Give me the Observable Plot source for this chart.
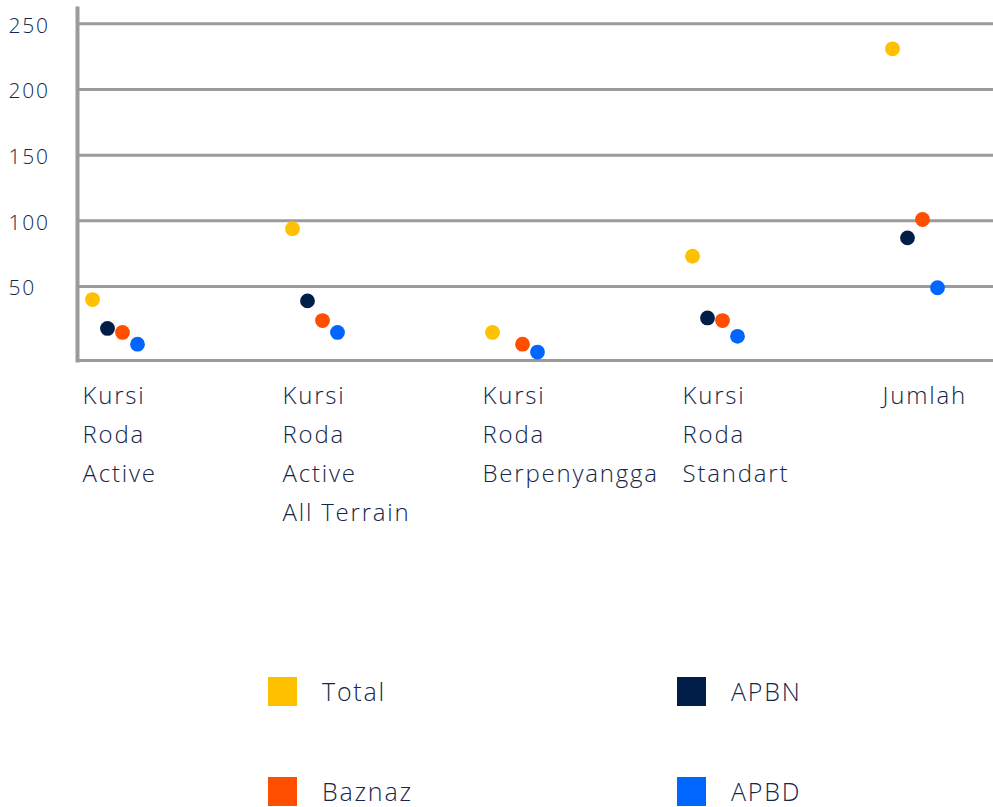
<!DOCTYPE html>
<html>
<head>
<meta charset="utf-8">
<script src="https://cdn.jsdelivr.net/npm/d3@7"></script>
<script src="https://cdn.jsdelivr.net/npm/@observablehq/plot@0.6"></script>
<style>
  html, body { margin: 0; padding: 0; background: #fff; }
  #wrap { position: relative; width: 993px; height: 807px; overflow: hidden; font-family: "Open Sans", Lato, sans-serif; font-weight: 300; color: #14264a; }
  #chart { position: absolute; left: 0; top: 0; width: 993px; overflow: hidden; }
  #chart svg { max-width: none !important; }
  .lg-sw { position: absolute; width: 29px; height: 29px; }
  .lg-tx { position: absolute; font-size: 25px; line-height: 29px; letter-spacing: 1.8px; white-space: nowrap; }
</style>
</head>
<body>
<div id="wrap">
  <div id="chart"></div>
  <div id="legend"></div>
</div>
<script>
const categories = ["Kursi Roda Active", "Kursi Roda Active All Terrain", "Kursi Roda Berpenyangga", "Kursi Roda Standart", "Jumlah"];
const categoryLabels = ["Kursi\nRoda\nActive", "Kursi\nRoda\nActive\nAll Terrain", "Kursi\nRoda\nBerpenyangga", "Kursi\nRoda\nStandart", "Jumlah"];
const seriesNames = ["Total", "APBN", "Baznaz", "APBD"];
const totalValues = [40, 94, 15, 73, 231];
const apbnValues = [18, 39, null, 26, 87];
const baznazValues = [15, 24, 6, 24, 101];
const apbdValues = [6, 15, 0, 12, 49];
const seriesColors = ["#FFC000", "#001E48", "#FF4E00", "#0066FF"];
const yTicks = [50, 100, 150, 200, 250];

const seriesArrays = [totalValues, apbnValues, baznazValues, apbdValues];
const data = categories.flatMap((c, i) =>
  seriesArrays.map((arr, j) => ({category: c, series: seriesNames[j], value: arr[i]}))
).filter(d => d.value != null);

const textColor = "#14264a";
const gridColor = "#9b9b9b";

const chart = Plot.plot({
  width: 1077,
  height: 560,
  marginLeft: 77,
  marginRight: 0,
  marginTop: 8,
  marginBottom: 200,
  style: {fontFamily: "'Open Sans', Lato, sans-serif", fontWeight: 300, maxWidth: "none", letterSpacing: "1.8px"},
  fx: {domain: categories, padding: 0, axis: null},
  x: {type: "point", domain: seriesNames, padding: 5.02, align: 0.0974, axis: null},
  y: {domain: [-6.4, 261.7], axis: null},
  color: {domain: seriesNames, range: seriesColors},
  marks: [
    Plot.ruleY(yTicks, {stroke: gridColor, strokeWidth: 3}),
    Plot.frame({anchor: "bottom", stroke: gridColor, strokeWidth: 3}),
    Plot.frame({anchor: "left", facetAnchor: "left", stroke: gridColor, strokeWidth: 4}),
    Plot.axisY(yTicks, {anchor: "left", label: null, tickSize: 0, tickPadding: 0, textAnchor: "start", dx: -69, dy: 2, fontSize: 21, fill: textColor}),
    Plot.dot(data, {fx: "category", x: "series", y: "value", fill: "series", r: 7.4}),
    Plot.text(categories, {
      fx: d => d,
      text: d => categoryLabels[categories.indexOf(d)],
      frameAnchor: "bottom-left",
      textAnchor: "start",
      lineAnchor: "top",
      dx: 5,
      dy: 16,
      fontSize: 24,
      lineHeight: 1.625,
      fill: textColor
    })
  ]
});
document.getElementById("chart").appendChild(chart);

// Legend
const legend = document.getElementById("legend");
const legendPos = [
  {sx: 268, tx: 322, y: 677},
  {sx: 677, tx: 731, y: 677},
  {sx: 268, tx: 322, y: 777},
  {sx: 677, tx: 731, y: 777}
];
seriesNames.forEach((name, i) => {
  const p = legendPos[i];
  const sw = document.createElement("div");
  sw.className = "lg-sw";
  sw.style.left = p.sx + "px";
  sw.style.top = p.y + "px";
  sw.style.background = seriesColors[i];
  legend.appendChild(sw);
  const tx = document.createElement("div");
  tx.className = "lg-tx";
  tx.style.left = p.tx + "px";
  tx.style.top = p.y + "px";
  tx.textContent = name;
  legend.appendChild(tx);
});
</script>
</body>
</html>
